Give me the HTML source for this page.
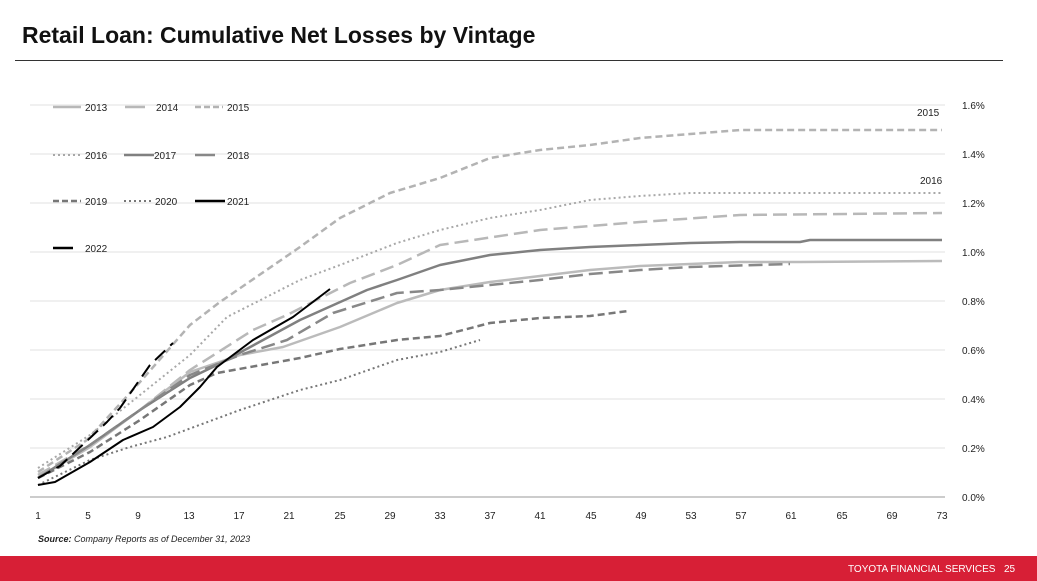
<!DOCTYPE html>
<html><head><meta charset="utf-8"><style>
body{margin:0;width:1037px;height:581px;background:#fff;overflow:hidden;font-family:"Liberation Sans",sans-serif;position:relative}
.t{position:absolute;left:22px;top:22px;font-size:23px;font-weight:bold;color:#111}
.hr{position:absolute;left:15px;top:60px;width:988px;height:1px;background:#333}
.src{position:absolute;left:38px;top:534px;font-size:9px;font-style:italic;color:#222}
.bar{position:absolute;left:0;top:556px;width:1037px;height:25px;background:#d71f36;color:#fff;font-size:10px}
.bar span{position:absolute;top:8px}
</style></head><body>
<div class="t">Retail Loan: Cumulative Net Losses by Vintage</div>
<div class="hr"></div>
<svg width="1037" height="581" style="position:absolute;left:0;top:0" font-family="Liberation Sans, sans-serif">
<g stroke="#e2e2e2" stroke-width="1">
<line x1="30" x2="945" y1="105" y2="105"/><line x1="30" x2="945" y1="154" y2="154"/><line x1="30" x2="945" y1="203" y2="203"/><line x1="30" x2="945" y1="252" y2="252"/><line x1="30" x2="945" y1="301" y2="301"/><line x1="30" x2="945" y1="350" y2="350"/><line x1="30" x2="945" y1="399" y2="399"/><line x1="30" x2="945" y1="448" y2="448"/>
</g>
<line x1="30" x2="945" y1="497" y2="497" stroke="#999"/>
<g font-size="10" fill="#222" text-anchor="start">
<text x="962" y="109">1.6%</text><text x="962" y="158">1.4%</text><text x="962" y="207">1.2%</text><text x="962" y="256">1.0%</text><text x="962" y="305">0.8%</text><text x="962" y="354">0.6%</text><text x="962" y="403">0.4%</text><text x="962" y="452">0.2%</text><text x="962" y="501">0.0%</text>
<text x="917" y="116">2015</text><text x="920" y="184">2016</text>
</g>
<g font-size="10" fill="#222" text-anchor="middle">
<text x="38" y="519">1</text><text x="88" y="519">5</text><text x="138" y="519">9</text><text x="189" y="519">13</text><text x="239" y="519">17</text><text x="289" y="519">21</text><text x="340" y="519">25</text><text x="390" y="519">29</text><text x="440" y="519">33</text><text x="490" y="519">37</text><text x="540" y="519">41</text><text x="591" y="519">45</text><text x="641" y="519">49</text><text x="691" y="519">53</text><text x="741" y="519">57</text><text x="791" y="519">61</text><text x="842" y="519">65</text><text x="892" y="519">69</text><text x="942" y="519">73</text>
</g>
<g fill="none" stroke-linejoin="round">
<polyline stroke="#b3b3b3" stroke-width="2.5" stroke-dasharray="7,4" points="38,472 87,440 140,382 190,325 220,302 300,247 340,218 390,193 440,178 490,158 540,150 590,145 640,138 690,134 740,130 942,130"/>
<polyline stroke="#a8a8a8" stroke-width="2" stroke-dasharray="2,3" points="38,468 90,435 140,395 190,355 227,317 300,280 340,265 397,243 440,230 490,218 540,210 590,200 640,196 690,193 942,193"/>
<polyline stroke="#b8b8b8" stroke-width="2.5" stroke-dasharray="14,6" points="38,475 90,445 140,410 190,370 253,330 287,315 350,283 397,265 440,245 540,230 640,222 740,215 942,213"/>
<polyline stroke="#bbbbbb" stroke-width="2.5" points="38,478 90,447 140,410 190,372 240,355 283,347 340,327 397,303 440,290 490,282 540,276 590,270 640,266 690,264 740,262 800,262 942,261"/>
<polyline stroke="#808080" stroke-width="2.5" points="38,478 90,445 140,410 190,378 217,365 300,320 367,290 397,280 440,265 490,255 540,250 590,247 640,245 690,243 740,242 800,242 810,240 942,240"/>
<polyline stroke="#888" stroke-width="2.5" stroke-dasharray="14,6" points="38,478 90,445 140,410 190,375 240,355 287,340 333,313 397,293 440,290 490,285 540,280 590,274 640,270 690,267 790,264"/>
<polyline stroke="#777" stroke-width="2.5" stroke-dasharray="7,4" points="38,478 90,452 140,420 190,385 217,373 300,358 340,349 397,340 440,336 490,323 540,318 590,316 628,311"/>
<polyline stroke="#777" stroke-width="2" stroke-dasharray="2,3" points="38,485 90,460 130,447 167,437 240,410 300,390 340,380 397,360 440,352 480,340"/>
<polyline stroke="#000" stroke-width="2" points="38,485 55,482 90,462 123,440 153,427 180,407 200,387 217,367 253,340 293,317 330,289"/>
<polyline stroke="#000" stroke-width="2" stroke-dasharray="14,7" points="38,478 60,466 90,438 107,422 120,408 150,365 173,343"/>
</g>
<g font-size="10" fill="#222">
<line x1="53" x2="81" y1="107" y2="107" stroke="#b8b8b8" stroke-width="2.5"/><text x="85" y="111">2013</text>
<line x1="125" x2="145" y1="107" y2="107" stroke="#b8b8b8" stroke-width="2.5"/><text x="156" y="111">2014</text>
<line x1="195" x2="223" y1="107" y2="107" stroke="#b3b3b3" stroke-width="2.5" stroke-dasharray="6,3"/><text x="227" y="111">2015</text>
<line x1="53" x2="81" y1="155" y2="155" stroke="#a8a8a8" stroke-width="2" stroke-dasharray="2,3"/><text x="85" y="159">2016</text>
<line x1="124" x2="154" y1="155" y2="155" stroke="#808080" stroke-width="2.5"/><text x="154" y="159">2017</text>
<line x1="195" x2="215" y1="155" y2="155" stroke="#888" stroke-width="2.5"/><text x="227" y="159">2018</text>
<line x1="53" x2="81" y1="201" y2="201" stroke="#777" stroke-width="2.5" stroke-dasharray="6,3"/><text x="85" y="205">2019</text>
<line x1="124" x2="152" y1="201" y2="201" stroke="#777" stroke-width="2" stroke-dasharray="2,3"/><text x="155" y="205">2020</text>
<line x1="195" x2="225" y1="201" y2="201" stroke="#000" stroke-width="2.5"/><text x="227" y="205">2021</text>
<line x1="53" x2="73" y1="248" y2="248" stroke="#000" stroke-width="2.5"/><text x="85" y="252">2022</text>
</g>
</svg>
<div class="src"><b>Source:</b> Company Reports as of December 31, 2023</div>
<div class="bar"><span style="left:848px">TOYOTA FINANCIAL SERVICES</span><span style="left:1004px">25</span></div>
</body></html>
